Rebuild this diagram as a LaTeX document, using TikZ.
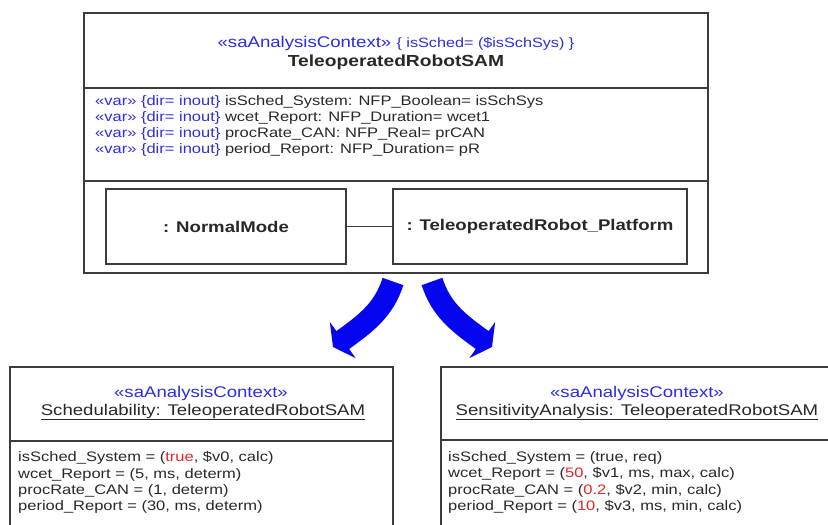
\documentclass[tikz,border=0pt]{standalone}
\usepackage{fontspec}
\setmainfont{Liberation Sans}[FakeStretch=1.2]
\usepackage{tikz}
\usetikzlibrary{positioning, arrows.meta, calc}
\definecolor{umlblue}{RGB}{45,45,225}
\definecolor{umlred}{RGB}{230,40,40}
\definecolor{arrowblue}{RGB}{5,5,240}
\definecolor{umlline}{RGB}{60,60,60}
\definecolor{umltext}{RGB}{40,40,40}
\tikzset{
    umlbox/.style={draw=umlline, line width=1.3pt, fill=white, inner sep=0pt},
    partbox/.style={umlbox, minimum height=75pt, font=\fontsize{15.5}{18}\selectfont\bfseries, text=umltext},
    stereo/.style={text=umlblue, inner sep=0pt},
    umlname/.style={inner sep=0pt, text=umltext},
    attrs/.style={anchor=west, align=left, inner sep=0pt, text=umltext, font=\fontsize{13.75}{16.2}\selectfont},
    bigarrow/.style={draw=arrowblue, line width=22pt, -{Triangle[length=12pt, width=44pt]}},
}
\newcommand{\kw}[1]{\textcolor{umlblue}{#1}}
\newcommand{\hl}[1]{\textcolor{umlred}{#1}}

\begin{document}
\begin{tikzpicture}[x=1pt, y=-1pt]
    \useasboundingbox (0,0) rectangle (828,525);
    % context class
    \node[umlbox, minimum width=624pt, minimum height=260pt] (sam) at (396,143) {};
    \draw[umlline, line width=1.3pt] (84,88) -- (708,88);
    \draw[umlline, line width=1.3pt] (84,181) -- (708,181);
    \node[stereo] (samst) at (396,43) {\fontsize{15.5}{18}\selectfont «saAnalysisContext» \fontsize{13.5}{16}\selectfont \{ isSched= (\$isSchSys) \}};
    \node[umlname, font=\fontsize{16}{18}\selectfont\bfseries] (samname) at (396,62) {TeleoperatedRobotSAM};
    \node[attrs] (samvars) at (95,126) {%
        \kw{«var» \{dir= inout\}} isSched\_System: NFP\_Boolean= isSchSys\\
        \kw{«var» \{dir= inout\}} wcet\_Report: NFP\_Duration= wcet1\\
        \kw{«var» \{dir= inout\}} procRate\_CAN: NFP\_Real= prCAN\\
        \kw{«var» \{dir= inout\}} period\_Report: NFP\_Duration= pR};
    \node[partbox, minimum width=240pt] (normal) at (226,226.5) {: NormalMode};
    \node[partbox, minimum width=294pt] (platform) at (540,226.5) {: TeleoperatedRobot\_Platform};
    \draw[umlline, line width=1.1pt] (normal) -- (platform);
    % analysis contexts
    \node[umlbox, minimum width=383pt, minimum height=200pt] (sched) at (201.5,467) {};
    \draw[umlline, line width=1.3pt] (10,441) -- (393,441);
    \node[stereo, font=\fontsize{15.5}{18}\selectfont] (schedst) at (201,393) {«saAnalysisContext»};
    \node[umlname, font=\fontsize{15.5}{18}\selectfont] (schedname) at (203,412) {\underline{Schedulability: TeleoperatedRobotSAM}};
    \node[attrs] (schedvals) at (18,482.5) {%
        isSched\_System = (\hl{true}, \$v0, calc)\\
        wcet\_Report = (5, ms, determ)\\
        procRate\_CAN = (1, determ)\\
        period\_Report = (30, ms, determ)};
    \node[umlbox, minimum width=430pt, minimum height=200pt] (sens) at (656,467) {};
    \draw[umlline, line width=1.3pt] (441,440) -- (871,440);
    \node[stereo, font=\fontsize{15.5}{18}\selectfont] (sensst) at (637,393) {«saAnalysisContext»};
    \node[umlname, font=\fontsize{15.5}{18}\selectfont] (sensname) at (637,412) {\underline{SensitivityAnalysis: TeleoperatedRobotSAM}};
    \node[attrs] (sensvals) at (448,482.5) {%
        isSched\_System = (true, req)\\
        wcet\_Report = (\hl{50}, \$v1, ms, max, calc)\\
        procRate\_CAN = (\hl{0.2}, \$v2, min, calc)\\
        period\_Report = (\hl{10}, \$v3, ms, min, calc)};
    % derivation arrows
    \coordinate (lfrom) at (393,281.5);
    \coordinate (lto) at (333,347);
    \coordinate (rfrom) at (432,281.5);
    \coordinate (rto) at (492,347);
    \draw[bigarrow] (lfrom) .. controls (384,309) and (368,322) .. (lto);
    \draw[bigarrow] (rfrom) .. controls (441,309) and (457,322) .. (rto);
\end{tikzpicture}
\end{document}
